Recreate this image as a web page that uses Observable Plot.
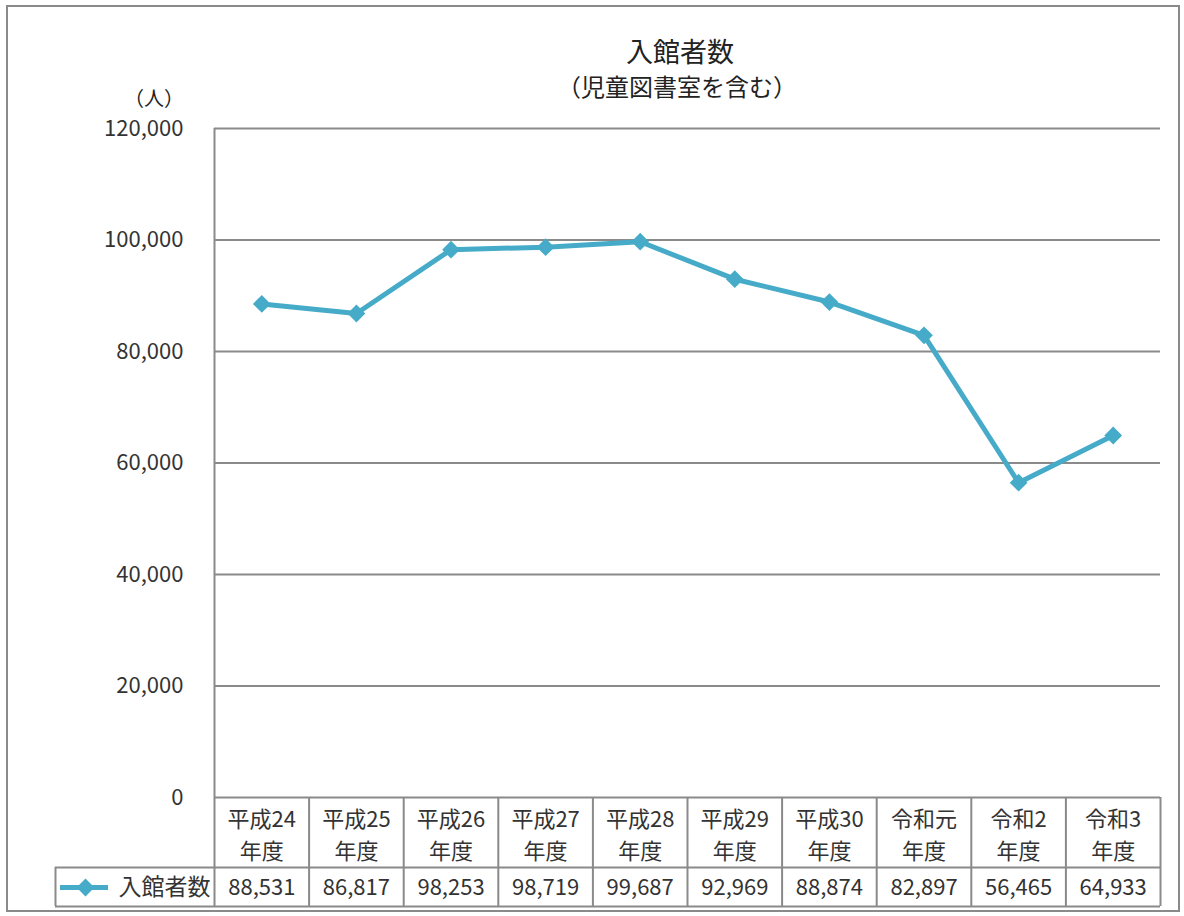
<!DOCTYPE html>
<html>
<head>
<meta charset="utf-8">
<script src="https://cdn.jsdelivr.net/npm/d3@7"></script>
<script src="https://cdn.jsdelivr.net/npm/@observablehq/plot@0.6"></script>
<style>
  html, body { margin: 0; padding: 0; background: #fff; }
  #wrap { position: relative; width: 1184px; height: 916px; overflow: hidden; font-family: "Noto Sans CJK JP", "Noto Sans", sans-serif; color: #222; }
  #border { position: absolute; left: 6px; top: 5px; width: 1174px; height: 907px; border: 2px solid #8a8a8a; box-sizing: border-box; pointer-events: none; }
  .lbl { position: absolute; white-space: nowrap; transform: translate(-50%, -50%); }
  #chart { position: absolute; left: 0; top: 0; }
</style>
</head>
<body>
<div id="wrap">
  <div id="chart"></div>
  <div id="border"></div>
  <div class="lbl" id="title" style="left:680px; top:50px; font-size:27px;"></div>
  <div class="lbl" id="subtitle" style="left:677px; top:85px; font-size:24px;"></div>
  <div class="lbl" id="unit" style="left:154px; top:97px; font-size:20px;"></div>
</div>
<script>
const titleText = "入館者数";
const subtitleText = "（児童図書室を含む）";
const unitText = "（人）";
const seriesName = "入館者数";
const categories = ["平成24年度","平成25年度","平成26年度","平成27年度","平成28年度","平成29年度","平成30年度","令和元年度","令和2年度","令和3年度"];
const tickLabels = ["平成24\n年度","平成25\n年度","平成26\n年度","平成27\n年度","平成28\n年度","平成29\n年度","平成30\n年度","令和元\n年度","令和2\n年度","令和3\n年度"];
const values = [88531, 86817, 98253, 98719, 99687, 92969, 88874, 82897, 56465, 64933];
const yTicks = [0, 20000, 40000, 60000, 80000, 100000, 120000];

document.getElementById("title").textContent = titleText;
document.getElementById("subtitle").textContent = subtitleText;
document.getElementById("unit").textContent = unitText;

const data = categories.map((c, i) => ({cat: c, label: tickLabels[i], value: values[i], pos: i + 0.5}));
const bounds = d3.range(1, categories.length + 1);
const n = categories.length;

const W = 1184, H = 916, mL = 214, mR = 24, mT = 128, mB = 119;
const color = "#46abc8";
const gridColor = "#8a8a8a";
const textColor = "#333333";
const fmt = d3.format(",");

// row offsets below the x axis (pixels)
const rowSplit = 70, rowEnd = 109, legendLeft = 159;

const chart = Plot.plot({
  width: W, height: H,
  marginLeft: mL, marginRight: mR, marginTop: mT, marginBottom: mB,
  style: {fontFamily: '"Noto Sans CJK JP", "Noto Sans", sans-serif', color: textColor, background: "transparent", overflow: "visible"},
  x: {domain: [0, n], axis: null},
  y: {domain: [0, 120000], axis: null},
  marks: [
    Plot.gridY(yTicks, {stroke: gridColor, strokeOpacity: 1, strokeWidth: 2}),
    Plot.axisY(yTicks, {tickSize: 0, tickPadding: 31, tickFormat: fmt, fontSize: 22, fill: textColor, label: null}),
    // left border of plot and table
    Plot.ruleX([0], {y1: 120000, y2: 0, insetBottom: -rowEnd, stroke: gridColor, strokeWidth: 2}),
    // table column boundaries
    Plot.ruleX(bounds, {y1: 0, y2: 0, insetBottom: -rowEnd, stroke: gridColor, strokeWidth: 2}),
    // table horizontal lines
    Plot.ruleY([0], {x1: 0, x2: n, insetLeft: -legendLeft, dy: rowSplit, stroke: gridColor, strokeWidth: 2}),
    Plot.ruleY([0], {x1: 0, x2: n, insetLeft: -legendLeft, dy: rowEnd, stroke: gridColor, strokeWidth: 2}),
    // legend cell left edge
    Plot.ruleX([0], {y1: 0, y2: 0, dx: -legendLeft, dy: rowSplit, insetBottom: -(rowEnd - rowSplit), stroke: gridColor, strokeWidth: 2}),
    // category labels
    Plot.text(data, {x: "pos", y: 0, text: "label", dy: 35, lineHeight: 1.45, fontSize: 22, fill: textColor}),
    // values
    Plot.text(data, {x: "pos", y: 0, text: d => fmt(d.value), dy: 90, fontSize: 22, fill: textColor}),
    // legend
    Plot.ruleY([0], {x1: 0, x2: 0, insetLeft: -154, insetRight: 106, dy: 90, stroke: color, strokeWidth: 5}),
    Plot.dot([0], {x: 0, y: 0, dx: -129, dy: 90, symbol: "diamond2", r: 8, fill: color}),
    Plot.text([seriesName], {x: 0, y: 0, text: d => d, dx: -4, dy: 90, textAnchor: "end", fontSize: 23, fill: textColor}),
    // series
    Plot.line(data, {x: "pos", y: "value", stroke: color, strokeWidth: 5}),
    Plot.dot(data, {x: "pos", y: "value", symbol: "diamond2", r: 8, fill: color})
  ]
});
document.getElementById("chart").appendChild(chart);
</script>
</body>
</html>
